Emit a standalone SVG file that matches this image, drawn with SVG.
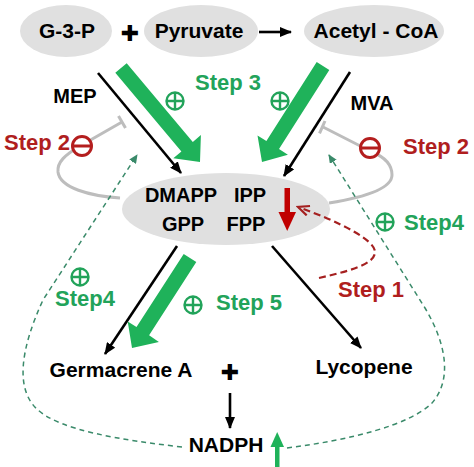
<svg xmlns="http://www.w3.org/2000/svg" width="474" height="467" viewBox="0 0 474 467">
<defs>
<style>
text{font-family:"Liberation Sans",Arial,sans-serif;font-weight:bold;}
.lbl{font-size:21px;fill:#000;text-anchor:middle;}
.mid{font-size:20px;fill:#000;text-anchor:middle;}
.grn{font-size:22px;fill:#22a35a;text-anchor:middle;}
.red{font-size:22px;fill:#b01e1e;text-anchor:middle;}
.ell{fill:#e0e0e0;}
.blk{stroke:#000;stroke-width:2.6;fill:none;marker-end:url(#ah);}
.bigg{fill:#1fb25a;}
.inh{stroke:#bdbdbd;stroke-width:3;fill:none;}
.gd{stroke:#3a8a6a;stroke-width:1.5;fill:none;stroke-dasharray:5 4;marker-end:url(#gh);}
.rd{stroke:#a52020;stroke-width:2.2;fill:none;stroke-dasharray:7 4;marker-end:url(#rh);}
.pc{stroke:#22a35a;stroke-width:2.4;fill:none;}
.mc{stroke:#b41e1e;stroke-width:3;fill:#fff;}
</style>
<marker id="ah" markerUnits="userSpaceOnUse" markerWidth="12" markerHeight="10" refX="11" refY="5" orient="auto"><path d="M0,0 L12,5 L0,10 z" fill="#000"/></marker>
<marker id="gh" markerUnits="userSpaceOnUse" markerWidth="9" markerHeight="8" refX="8" refY="4" orient="auto"><path d="M0,0 L9,4 L0,8 z" fill="#3a8a6a"/></marker>
<marker id="rh" markerUnits="userSpaceOnUse" markerWidth="14" markerHeight="12" refX="12" refY="6" orient="auto"><path d="M1,1 L12,6 L1,11" fill="none" stroke="#a52020" stroke-width="2.2"/></marker>
</defs>
<rect width="474" height="467" fill="#fff"/>

<g id="g3p"><ellipse class="ell" cx="66" cy="31" rx="46" ry="26"/><text class="lbl" x="67" y="38">G-3-P</text></g>
<g id="plus1"><text x="130" y="41" font-size="22" text-anchor="middle" style="font-family:'DejaVu Sans',sans-serif" fill="#000">✚</text></g>
<g id="pyruvate"><ellipse class="ell" cx="201" cy="31" rx="57" ry="26"/><text class="lbl" x="199" y="38">Pyruvate</text></g>
<g id="acetylcoa"><ellipse class="ell" cx="374" cy="31" rx="70" ry="26"/><text class="lbl" x="376" y="38">Acetyl - CoA</text></g>

<g id="center">
  <ellipse class="ell" cx="226" cy="209" rx="104" ry="36"/>
  <text class="mid" x="181" y="202">DMAPP</text>
  <text class="mid" x="250" y="202">IPP</text>
  <text class="mid" x="183" y="231">GPP</text>
  <text class="mid" x="246" y="231">FPP</text>
</g>

<g id="germacrene"><text class="lbl" x="121" y="377">Germacrene A</text></g>
<g id="plus2"><text x="230" y="380" font-size="22" text-anchor="middle" style="font-family:'DejaVu Sans',sans-serif" fill="#000">✚</text></g>
<g id="lycopene"><text class="lbl" x="364" y="374">Lycopene</text></g>
<g id="nadph"><text class="lbl" x="226" y="452">NADPH</text></g>

<g id="connectors">
  <line x1="259" y1="32" x2="291" y2="32" class="blk"/>
  <line x1="98" y1="73" x2="181" y2="173" class="blk"/>
  <line x1="350" y1="72" x2="284" y2="176" class="blk"/>
  <line x1="177" y1="246" x2="105" y2="354" class="blk"/>
  <line x1="272" y1="246" x2="361" y2="348" class="blk"/>
  <line x1="230" y1="393" x2="230" y2="428" class="blk"/>
  <polygon class="bigg" points="115.3,72.8 126.7,63.2 192.8,141.9 200.9,135.1 200,162 173.3,158.3 181.4,151.5"/>
  <polygon class="bigg" points="329.3,70 316.7,62 266.4,141.1 257.5,135.5 262,162 287.9,154.7 279,149.1"/>
  <polygon class="bigg" points="196.3,262.1 183.7,253.9 136.5,327.1 127.7,321.4 132,348 158.9,342 149.1,335.3"/>
  <path class="inh" d="M120,198 C90,196 60,188 58,172 C57,162 65,155 80,146 L122,122"/>
  <line class="inh" x1="125.5" y1="128.1" x2="118.5" y2="115.9"/>
  <path class="inh" d="M329,203 C360,198 392,190 392,175 C392,163 382,156 372,152 L323,127"/>
  <line class="inh" x1="325" y1="121" x2="319.5" y2="133.4"/>
  <path class="gd" d="M182,447 C120,440 60,430 38,410 C15,390 20,350 43,300 L137,155"/>
  <path class="gd" d="M287,448 C350,440 410,425 432,403 C452,380 447,345 425,308 L329,155"/>
  <path class="rd" d="M319,278 C345,272 375,265 375,252 C375,240 340,222 298,207"/>
  <rect x="284.5" y="188" width="5.5" height="28" fill="#c00000"/>
  <polygon points="278.5,212 296,212 287.2,231" fill="#c00000"/>
  <rect x="275" y="444" width="4.5" height="23" fill="#1fb25a"/>
  <polygon points="270.5,447 284,447 277.2,432" fill="#1fb25a"/>
</g>

<g id="mep"><text class="mid" x="75" y="103">MEP</text></g>
<g id="mva"><text class="mid" x="372" y="110">MVA</text></g>

<g id="step3">
  <text class="grn" x="228" y="90">Step 3</text>
  <circle class="pc" cx="175" cy="101" r="8.5"/><path class="pc" d="M175,92.5 V109.5 M166.5,101 H183.5"/>
  <circle class="pc" cx="280" cy="101" r="8.5"/><path class="pc" d="M280,92.5 V109.5 M271.5,101 H288.5"/>
</g>

<g id="step2left">
  <text class="red" x="37" y="150">Step 2</text>
  <circle class="mc" cx="82" cy="146" r="9.5"/><path class="mc" d="M73,146 H91"/>
</g>
<g id="step2right">
  <circle class="mc" cx="370" cy="148" r="9.5"/><path class="mc" d="M361,148 H379"/>
  <text class="red" x="436" y="154">Step 2</text>
</g>

<g id="step4left">
  <circle class="pc" cx="80" cy="277" r="8.5"/><path class="pc" d="M80,268.5 V285.5 M71.5,277 H88.5"/>
  <text class="grn" x="85" y="306">Step4</text>
</g>
<g id="step4right">
  <circle class="pc" cx="385" cy="222" r="8.5"/><path class="pc" d="M385,213.5 V230.5 M376.5,222 H393.5"/>
  <text class="grn" x="434" y="230">Step4</text>
</g>

<g id="step1"><text class="red" x="371" y="297">Step 1</text></g>

<g id="step5">
  <circle class="pc" cx="193" cy="305" r="8.5"/><path class="pc" d="M193,296.5 V313.5 M184.5,305 H201.5"/>
  <text class="grn" x="249" y="310">Step 5</text>
</g>
</svg>
